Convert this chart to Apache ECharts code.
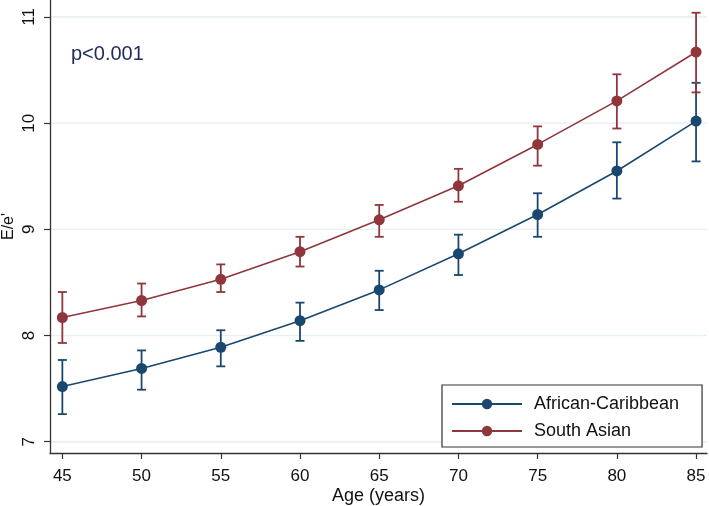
<!DOCTYPE html>
<html><head><meta charset="utf-8">
<script src="https://cdn.jsdelivr.net/npm/echarts@6/dist/echarts.min.js"></script>
<style>html,body{margin:0;padding:0;background:#fff}#c{width:709px;height:506px}</style>
</head><body><div id="c"></div>
<script>
const ages=[45,50,55,60,65,70,75,80,85];
const acMean=[7.52,7.69,7.89,8.14,8.43,8.77,9.14,9.55,10.02];
const acLow=[7.26,7.49,7.71,7.95,8.24,8.57,8.93,9.29,9.64];
const acHigh=[7.77,7.86,8.05,8.31,8.61,8.95,9.34,9.82,10.38];
const saMean=[8.17,8.33,8.53,8.79,9.09,9.41,9.80,10.21,10.67];
const saLow=[7.93,8.18,8.41,8.65,8.93,9.26,9.60,9.95,10.29];
const saHigh=[8.41,8.49,8.67,8.93,9.23,9.57,9.97,10.46,11.04];
const xTicks=[45,50,55,60,65,70,75,80,85];
const yTicks=[7,8,9,10,11];
const seriesNames=['African-Caribbean','South Asian'];

const BLUE='#1a476f', RED='#90353b';
const FONT='"Liberation Sans", Arial, Helvetica, sans-serif';
const X_MIN=44.22, X_MAX=85.69, Y_MIN=6.894, Y_MAX=11.16;

function errData(lo,hi){return ages.map((a,i)=>[a,lo[i],hi[i]]);}
function errRender(color){
  return function(params,api){
    const x=api.value(0), lo=api.value(1), hi=api.value(2);
    const pH=api.coord([x,hi]), pL=api.coord([x,lo]);
    const w=4.5;
    const st={stroke:color,lineWidth:1.8};
    return {type:'group',children:[
      {type:'line',shape:{x1:pH[0],y1:pH[1],x2:pL[0],y2:pL[1]},style:st},
      {type:'line',shape:{x1:pH[0]-w,y1:pH[1],x2:pH[0]+w,y2:pH[1]},style:st},
      {type:'line',shape:{x1:pL[0]-w,y1:pL[1],x2:pL[0]+w,y2:pL[1]},style:st}
    ]};
  };
}

const chart=echarts.init(document.getElementById('c'),null,{renderer:'canvas'});
chart.setOption({
  animation:false,
  backgroundColor:'#fff',
  textStyle:{fontFamily:FONT},
  grid:{left:50,right:2,top:0,bottom:53,containLabel:false,outerBoundsMode:'none'},
  xAxis:{type:'value',min:X_MIN,max:X_MAX,
    name:'Age (years)',nameLocation:'middle',nameGap:34,nameMoveOverlap:false,
    nameTextStyle:{fontSize:18,color:'#111',fontFamily:FONT},
    axisLine:{show:true,onZero:false,lineStyle:{color:'#333',width:1.3}},
    axisTick:{show:true,length:6,customValues:xTicks,lineStyle:{color:'#333',width:1.2}},
    axisLabel:{customValues:xTicks,fontSize:17,color:'#111',margin:15,fontFamily:FONT},
    splitLine:{show:false}},
  yAxis:{type:'value',min:Y_MIN,max:Y_MAX,
    name:"E/e'",nameLocation:'middle',nameGap:33,nameMoveOverlap:false,
    nameTextStyle:{fontSize:16,color:'#111',fontFamily:FONT},
    axisLine:{show:true,onZero:false,lineStyle:{color:'#333',width:1.3}},
    axisTick:{show:true,length:6,customValues:yTicks,lineStyle:{color:'#333',width:1.2}},
    axisLabel:{customValues:yTicks,rotate:90,fontSize:17,color:'#111',margin:12,fontFamily:FONT},
    splitLine:{show:false}},
  legend:{data:seriesNames,orient:'vertical',left:442,top:385,
    backgroundColor:'#fff',borderColor:'#333',borderWidth:1.2,borderRadius:0,
    padding:[10,23,7,9],itemWidth:70,itemHeight:13,itemGap:9,
    textStyle:{fontSize:18,color:'#111',fontFamily:FONT,padding:[0,0,0,7]}},
  graphic:[{type:'text',left:71,top:44,style:{text:'p<0.001',fontSize:20,fill:'#1f2c57',fontFamily:FONT}}],
  series:[
    {type:'custom',name:'grid',silent:true,z:0,
      data:yTicks.map(v=>[X_MIN,v]),
      renderItem:function(params,api){
        const cs=params.coordSys;
        const p=api.coord([X_MIN,api.value(1)]);
        return {type:'line',shape:{x1:cs.x+1,y1:p[1],x2:cs.x+cs.width,y2:p[1]},style:{stroke:'#e6eef1',lineWidth:1.3}};
      }},
    {type:'custom',name:'acErr',silent:true,z:2,data:errData(acLow,acHigh),renderItem:errRender(BLUE)},
    {type:'custom',name:'saErr',silent:true,z:2,data:errData(saLow,saHigh),renderItem:errRender(RED)},
    {type:'line',name:seriesNames[0],z:3,data:ages.map((a,i)=>[a,acMean[i]]),
      symbol:'circle',symbolSize:11,showSymbol:true,
      lineStyle:{color:BLUE,width:1.6},itemStyle:{color:BLUE}},
    {type:'line',name:seriesNames[1],z:3,data:ages.map((a,i)=>[a,saMean[i]]),
      symbol:'circle',symbolSize:11,showSymbol:true,
      lineStyle:{color:RED,width:1.6},itemStyle:{color:RED}}
  ]
});
</script></body></html>
